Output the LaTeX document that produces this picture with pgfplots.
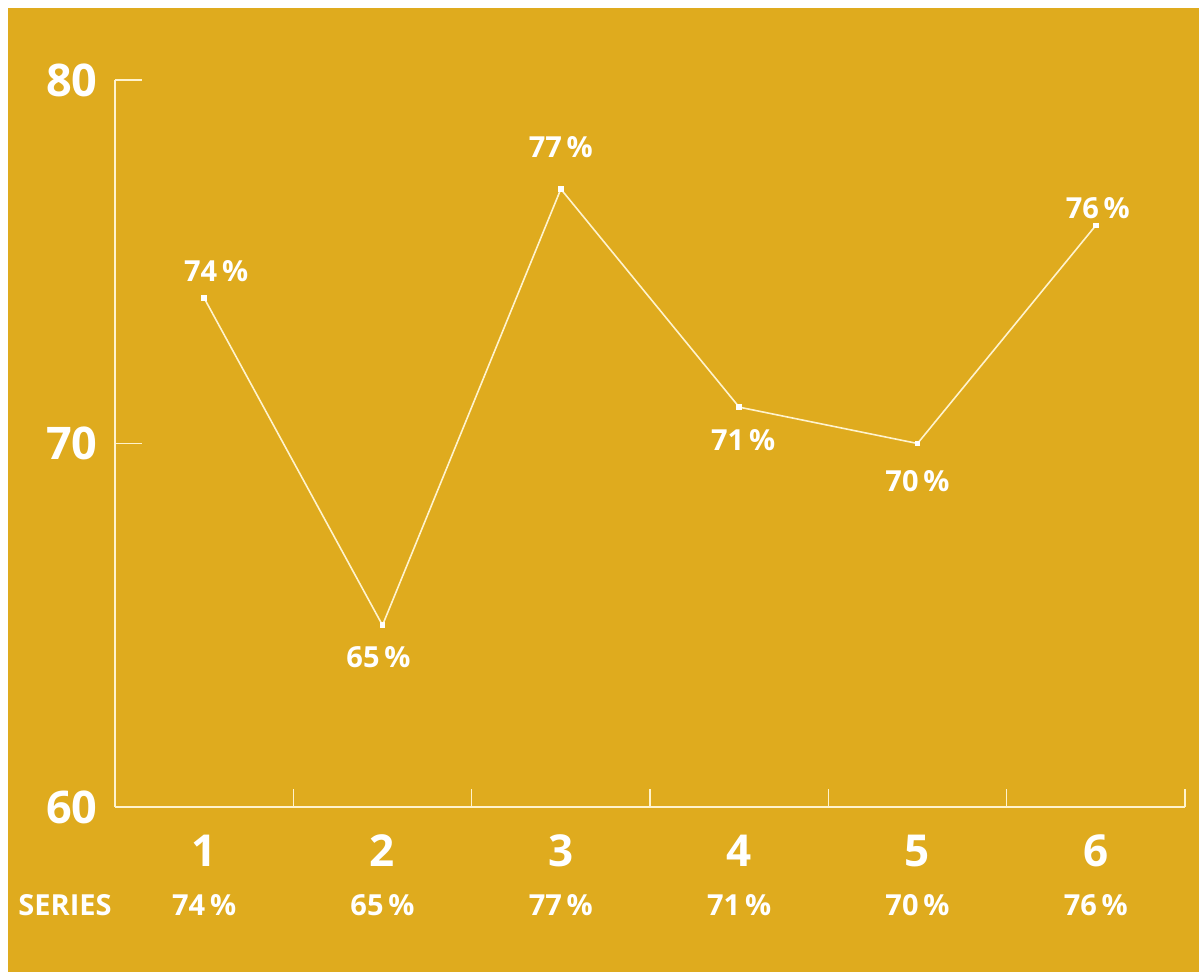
\documentclass[border=0pt]{standalone}
\usepackage{pgfplots}
\pgfplotsset{compat=1.18}
\usepackage{pgfplotstable}
\usepackage{fontspec}
\setmainfont{Open Sans}
\definecolor{gold}{RGB}{223,171,30}
\definecolor{cream}{RGB}{255,243,205}
\pgfplotstableread{
x y dx dy
1 74 6 13.5
2 65 -2 -16
3 77 0 21
4 71 2 -16.5
5 70 0 -19
6 76 1 8.5
}\datatable
\begin{document}
\begin{tikzpicture}
\fill[white] (-57.5pt,-82.5pt) rectangle (542pt,403.5pt);
\fill[gold] (-53.5pt,-82.5pt) rectangle (542pt,399.5pt);
\begin{axis}[
  at={(0pt,0pt)}, anchor=south west,
  width=535pt, height=363.5pt, scale only axis,
  xmin=0.5, xmax=6.5, ymin=60, ymax=80,
  axis x line*=bottom, axis y line*=left,
  axis line style={-, draw=cream, line width=0.8pt},
  tick align=inside,
  xtick={1,2,3,4,5,6},
  xticklabels={1,2,3,4,5,6},
  xtick style={draw=none},
  minor xtick={1.5,2.5,3.5,4.5,5.5,6.5},
  minor tick length=9pt,
  minor x tick style={draw=cream, line width=0.6pt},
  ytick={60,70,80},
  yticklabels={60,70,80},
  ytick style={draw=cream, line width=0.6pt},
  major tick length=13.5pt,
  yticklabel style={font=\fontsize{22.5}{22.5}\selectfont\bfseries, text=white, anchor=east, inner sep=0pt, xshift=-8.5pt},
  xticklabel style={font=\fontsize{22}{22}\selectfont\bfseries, text=white, anchor=center, inner sep=0pt, yshift=-22pt},
  extra x ticks={1,2,3,4,5,6},
  extra x tick labels={74\,\%,65\,\%,77\,\%,71\,\%,70\,\%,76\,\%},
  extra x tick style={xtick style={draw=none}, xticklabel style={font=\fontsize{14.5}{14.5}\selectfont\bfseries, yshift=-27pt}},
  clip=false,
]
\addplot[cream, line width=0.8pt, mark=square*, mark size=1pt, mark options={fill=white, draw=white},
  visualization depends on={\thisrow{dx} \as \dx},
  visualization depends on={\thisrow{dy} \as \dy},
  nodes near coords={\pgfplotspointmeta\,\%},
  point meta=explicit symbolic,
  every node near coord/.append style={anchor=center, xshift=\dx pt, yshift=\dy pt, font=\fontsize{14.5}{14.5}\selectfont\bfseries, text=white},
] table[x=x, y=y, meta=y] {\datatable};
\node[font=\fontsize{14.5}{14.5}\selectfont\bfseries, text=white, inner sep=0pt] at (rel axis cs:0,0) [xshift=-25pt, yshift=-49pt] {SERIES};
\end{axis}
\end{tikzpicture}
\end{document}
